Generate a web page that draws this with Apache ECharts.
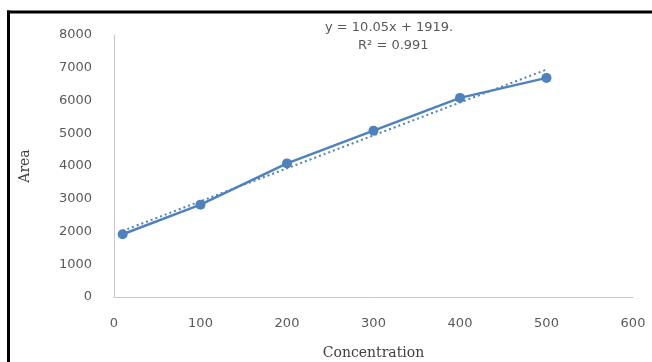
<!DOCTYPE html>
<html>
<head>
<meta charset="utf-8">
<script src="https://cdn.jsdelivr.net/npm/echarts@6/dist/echarts.min.js"></script>
<style>html,body{margin:0;padding:0;background:#fff;}#c{width:652px;height:362px;}</style>
</head>
<body>
<div id="c"></div>
<script>
const concentration = [10, 100, 200, 300, 400, 500];
const area = [1915, 2820, 4080, 5080, 6080, 6690];
const trendX = [10, 500];
const trendY = [2020, 6944];
const equationText = 'y = 10.05x + 1919.';
const r2Text = 'R² = 0.991';
const xTitle = 'Concentration';
const yTitle = 'Area';

const chart = echarts.init(document.getElementById('c'), null, {renderer: 'canvas'});
const blue = '#4f81bd';
chart.setOption({
  animation: false,
  grid: {left: 114, top: 35, right: 19, bottom: 65, containLabel: false, outerBoundsMode: 'none'},
  xAxis: {
    type: 'value', min: 0, max: 600, interval: 100,
    axisLine: {show: true, lineStyle: {color: '#c8c8c8', width: 1}},
    axisTick: {show: false}, splitLine: {show: false},
    axisLabel: {color: '#595959', fontFamily: 'DejaVu Sans', fontSize: 13, margin: 20, formatter: v => String(v)},
    name: xTitle, nameLocation: 'middle', nameGap: 49,
    nameTextStyle: {color: '#404040', fontFamily: 'DejaVu Serif', fontSize: 14}
  },
  yAxis: {
    type: 'value', min: 0, max: 8000, interval: 1000,
    axisLine: {show: true, lineStyle: {color: '#c8c8c8', width: 1}},
    axisTick: {show: false}, splitLine: {show: false},
    axisLabel: {color: '#595959', fontFamily: 'DejaVu Sans', fontSize: 13, margin: 22, formatter: v => String(v)},
    name: yTitle, nameLocation: 'middle', nameGap: 82, nameRotate: 90,
    nameTextStyle: {color: '#404040', fontFamily: 'DejaVu Serif', fontSize: 14}
  },
  series: [
    {
      type: 'line',
      data: trendX.map((x, i) => [x, trendY[i]]),
      symbol: 'none',
      lineStyle: {color: blue, width: 2, type: [2, 3]},
      z: 1
    },
    {
      type: 'line',
      data: concentration.map((x, i) => [x, area[i]]),
      symbol: 'circle', symbolSize: 10,
      itemStyle: {color: blue},
      lineStyle: {color: blue, width: 2.5},
      z: 2
    }
  ],
  graphic: [
    {type: 'line', shape: {x1: 8.5, y1: 10.5, x2: 8.5, y2: 362},
     style: {stroke: '#000', lineWidth: 3}, z: 100},
    {type: 'line', shape: {x1: 7, y1: 12, x2: 652, y2: 12},
     style: {stroke: '#000', lineWidth: 3}, z: 100},
    {type: 'text', left: 325, top: 21,
     style: {text: equationText, fill: '#595959', font: '13px "DejaVu Sans"'}},
    {type: 'text', left: 358, top: 39,
     style: {text: r2Text, fill: '#595959', font: '13px "DejaVu Sans"'}}
  ]
});
</script>
</body>
</html>
